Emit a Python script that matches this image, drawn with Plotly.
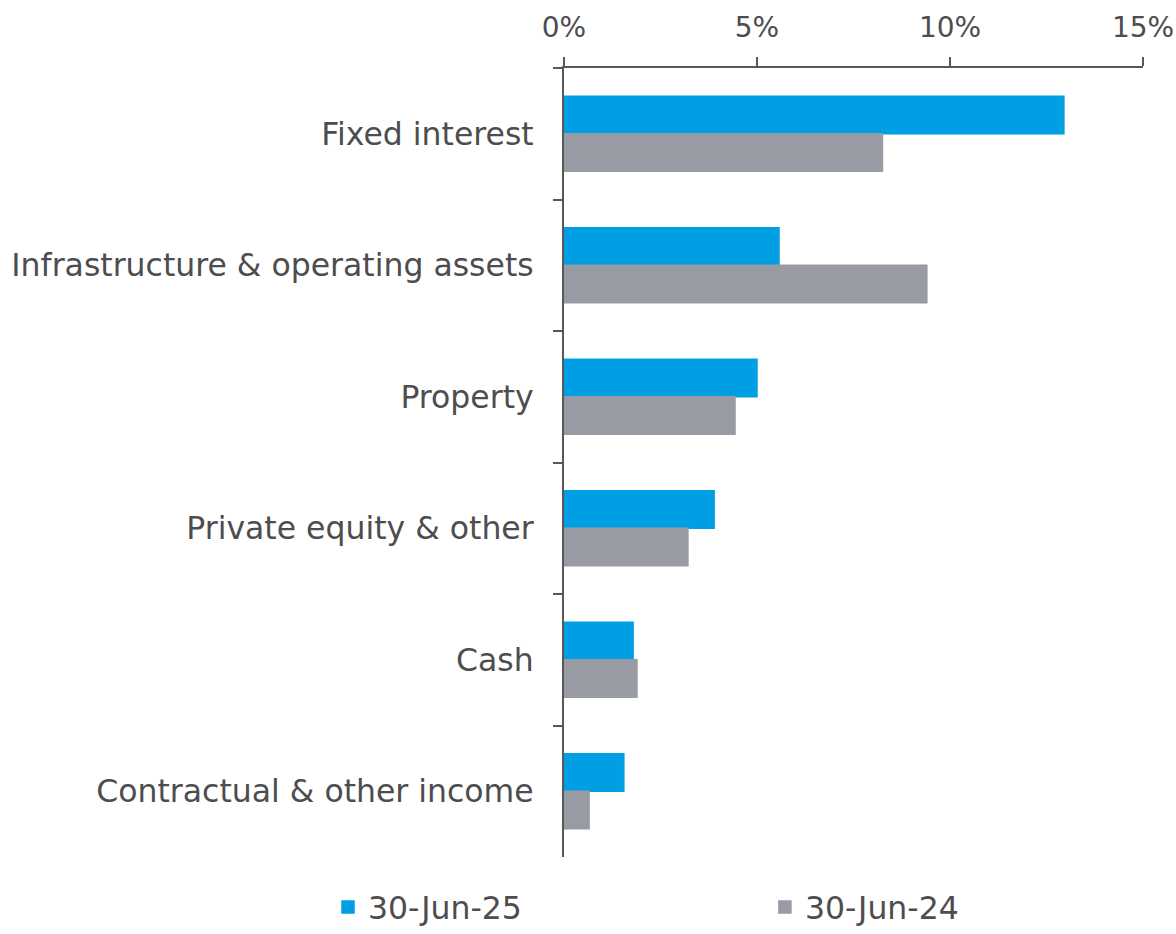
import plotly.graph_objects as go

# Asset classes, top to bottom
categories = [
    "Fixed interest",
    "Infrastructure & operating assets",
    "Property",
    "Private equity & other",
    "Cash",
    "Contractual & other income",
]

# Returns (%) by period
returns_2025 = [12.95, 5.57, 5.0, 3.89, 1.79, 1.55]
returns_2024 = [8.25, 9.40, 4.43, 3.21, 1.89, 0.65]

series_names = ["30-Jun-25", "30-Jun-24"]
tick_values = [0, 5, 10, 15]
tick_labels = ["0%", "5%", "10%", "15%"]

BLUE = "#009FE3"
GREY = "#989BA3"
TEXT = "#4D4D4F"
AXIS = "#58585A"
FONT = "DejaVu Sans, Verdana, sans-serif"
SIZE = 31.5

fig = go.Figure()
fig.add_trace(go.Bar(
    y=categories, x=returns_2025, name=series_names[0], orientation="h",
    marker=dict(color=BLUE, line=dict(width=1.5, color=BLUE)),
    legend="legend",
))
fig.add_trace(go.Bar(
    y=categories, x=returns_2024, name=series_names[1], orientation="h",
    marker=dict(color=GREY, line=dict(width=1.5, color=GREY)),
    legend="legend2",
))

legend_style = dict(
    orientation="h", xanchor="left", yanchor="bottom", y=-0.0976,
    font=dict(family=FONT, size=SIZE, color=TEXT),
    bgcolor="rgba(0,0,0,0)", borderwidth=0,
)

fig.update_layout(
    width=1176, height=934,
    margin=dict(l=564, r=33, t=68, b=77, autoexpand=False),
    paper_bgcolor="white", plot_bgcolor="white",
    font=dict(family=FONT, size=SIZE, color=TEXT),
    barmode="group", bargap=0.43, bargroupgap=0,
    showlegend=True,
    legend=dict(x=-0.4076, **legend_style),
    legend2=dict(x=0.347, **legend_style),
    xaxis=dict(
        side="top", range=[0, 15], tickvals=tick_values, ticktext=tick_labels,
        tickfont=dict(family=FONT, size=28, color=TEXT),
        showgrid=False, zeroline=False, showline=True, linecolor=AXIS, linewidth=2,
        ticks="outside", ticklen=9, tickwidth=2, tickcolor=AXIS,
        ticklabelstandoff=9, ticklabeloverflow="allow",
        fixedrange=True, automargin=False,
    ),
    yaxis=dict(
        autorange="reversed", showgrid=False, zeroline=False,
        showline=True, linecolor=AXIS, linewidth=2,
        ticks="outside", tickson="boundaries", ticklen=9, tickwidth=2, tickcolor=AXIS,
        ticklabelstandoff=22, fixedrange=True, automargin=False,
    ),
)

fig.write_html("out.html")
